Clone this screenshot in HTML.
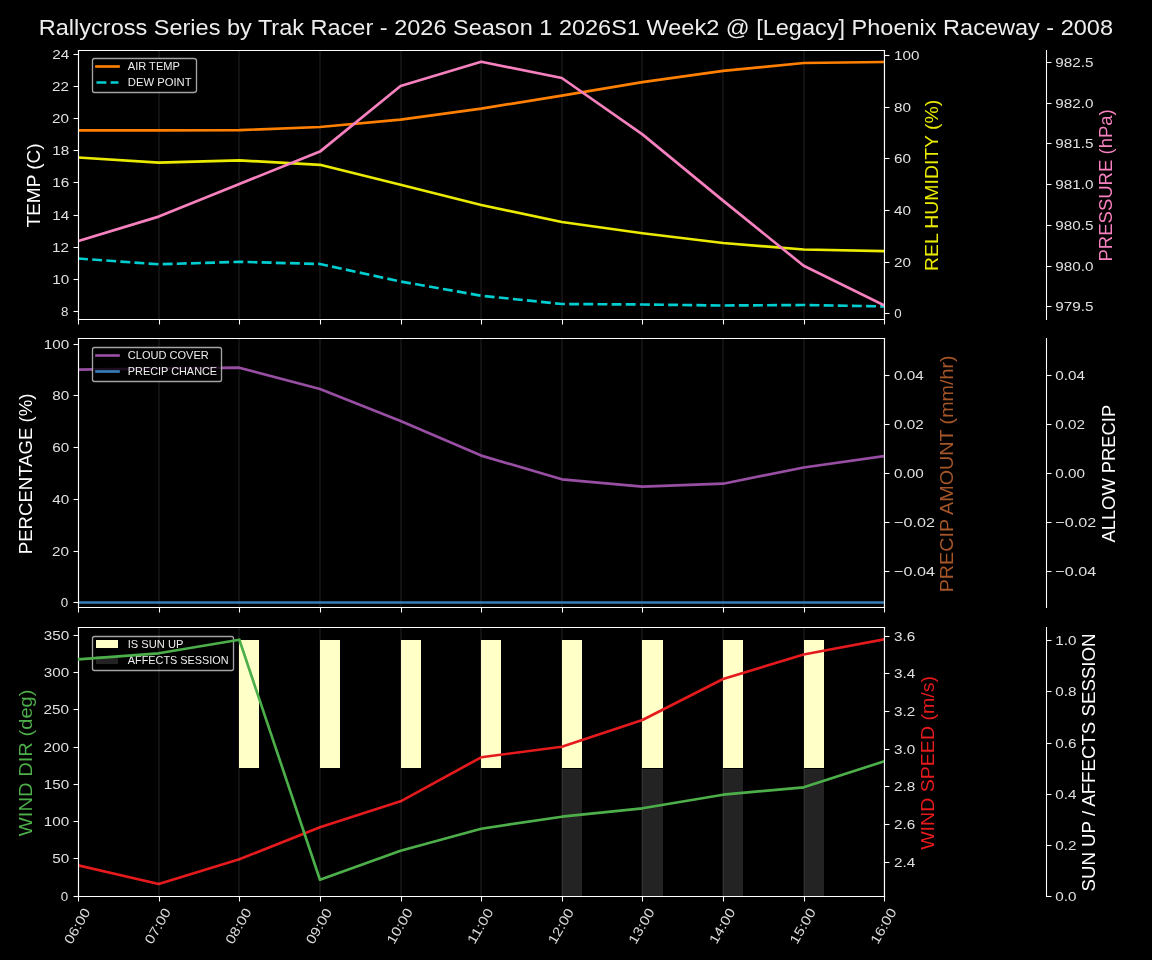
<!DOCTYPE html>
<html><head><meta charset="utf-8"><title>Rallycross weather</title>
<style>html,body{margin:0;padding:0;background:#000;width:1152px;height:960px;overflow:hidden}svg{display:block;will-change:transform}text{font-family:"Liberation Sans",sans-serif;white-space:pre}</style></head>
<body>
<svg width="1152" height="960" viewBox="0 0 1152 960" font-family="'Liberation Sans', sans-serif">
<defs><clipPath id="c0"><rect x="78" y="50" width="806" height="269"/></clipPath><clipPath id="c1"><rect x="78" y="338" width="806" height="269"/></clipPath><clipPath id="c2"><rect x="78" y="627" width="806" height="269"/></clipPath></defs>
<rect width="1152" height="960" fill="#000"/>
<path d="M0 960L1152 960L1152 0L0 0Z" fill="#000000"/>
<path d="M78 319L884 319L884 50L78 50Z" fill="#000000"/>
<path d="M78 319L78 50" fill="none" stroke="#ffffff" stroke-opacity="0.067" stroke-width="2" stroke-linecap="square" stroke-linejoin="round" clip-path="url(#c0)"/>
<path d="M78.5 319.5L78.5 324.5" fill="none" stroke="#ffffff" stroke-width="1.07" stroke-linecap="butt"/>
<path d="M159 319L159 50" fill="none" stroke="#ffffff" stroke-opacity="0.067" stroke-width="2" stroke-linecap="square" stroke-linejoin="round" clip-path="url(#c0)"/>
<path d="M159.5 319.5L159.5 324.5" fill="none" stroke="#ffffff" stroke-width="1.07" stroke-linecap="butt"/>
<path d="M239 319L239 50" fill="none" stroke="#ffffff" stroke-opacity="0.067" stroke-width="2" stroke-linecap="square" stroke-linejoin="round" clip-path="url(#c0)"/>
<path d="M239.5 319.5L239.5 324.5" fill="none" stroke="#ffffff" stroke-width="1.07" stroke-linecap="butt"/>
<path d="M320 319L320 50" fill="none" stroke="#ffffff" stroke-opacity="0.067" stroke-width="2" stroke-linecap="square" stroke-linejoin="round" clip-path="url(#c0)"/>
<path d="M320.5 319.5L320.5 324.5" fill="none" stroke="#ffffff" stroke-width="1.07" stroke-linecap="butt"/>
<path d="M401 319L401 50" fill="none" stroke="#ffffff" stroke-opacity="0.067" stroke-width="2" stroke-linecap="square" stroke-linejoin="round" clip-path="url(#c0)"/>
<path d="M401.5 319.5L401.5 324.5" fill="none" stroke="#ffffff" stroke-width="1.07" stroke-linecap="butt"/>
<path d="M481 319L481 50" fill="none" stroke="#ffffff" stroke-opacity="0.067" stroke-width="2" stroke-linecap="square" stroke-linejoin="round" clip-path="url(#c0)"/>
<path d="M481.5 319.5L481.5 324.5" fill="none" stroke="#ffffff" stroke-width="1.07" stroke-linecap="butt"/>
<path d="M562 319L562 50" fill="none" stroke="#ffffff" stroke-opacity="0.067" stroke-width="2" stroke-linecap="square" stroke-linejoin="round" clip-path="url(#c0)"/>
<path d="M562.5 319.5L562.5 324.5" fill="none" stroke="#ffffff" stroke-width="1.07" stroke-linecap="butt"/>
<path d="M642 319L642 50" fill="none" stroke="#ffffff" stroke-opacity="0.067" stroke-width="2" stroke-linecap="square" stroke-linejoin="round" clip-path="url(#c0)"/>
<path d="M642.5 319.5L642.5 324.5" fill="none" stroke="#ffffff" stroke-width="1.07" stroke-linecap="butt"/>
<path d="M723 319L723 50" fill="none" stroke="#ffffff" stroke-opacity="0.067" stroke-width="2" stroke-linecap="square" stroke-linejoin="round" clip-path="url(#c0)"/>
<path d="M723.5 319.5L723.5 324.5" fill="none" stroke="#ffffff" stroke-width="1.07" stroke-linecap="butt"/>
<path d="M804 319L804 50" fill="none" stroke="#ffffff" stroke-opacity="0.067" stroke-width="2" stroke-linecap="square" stroke-linejoin="round" clip-path="url(#c0)"/>
<path d="M804.5 319.5L804.5 324.5" fill="none" stroke="#ffffff" stroke-width="1.07" stroke-linecap="butt"/>
<path d="M884 319L884 50" fill="none" stroke="#ffffff" stroke-opacity="0.067" stroke-width="2" stroke-linecap="square" stroke-linejoin="round" clip-path="url(#c0)"/>
<path d="M884.5 319.5L884.5 324.5" fill="none" stroke="#ffffff" stroke-width="1.07" stroke-linecap="butt"/>
<path d="M78.5 311.5L73.5 311.5" fill="none" stroke="#ffffff" stroke-width="1.07" stroke-linecap="butt"/>
<text x="60.89" y="315.9" font-size="13.33" fill="#ffffff" fill-opacity="0.88">8</text>
<path d="M78.5 279.5L73.5 279.5" fill="none" stroke="#ffffff" stroke-width="1.07" stroke-linecap="butt"/>
<text x="52.27" y="283.77" font-size="13.33" fill="#ffffff" fill-opacity="0.88" textLength="16.97" lengthAdjust="spacingAndGlyphs">10</text>
<path d="M78.5 247.5L73.5 247.5" fill="none" stroke="#ffffff" stroke-width="1.07" stroke-linecap="butt"/>
<text x="52.14" y="251.65" font-size="13.33" fill="#ffffff" fill-opacity="0.88" textLength="16.97" lengthAdjust="spacingAndGlyphs">12</text>
<path d="M78.5 215.5L73.5 215.5" fill="none" stroke="#ffffff" stroke-width="1.07" stroke-linecap="butt"/>
<text x="52.39" y="219.53" font-size="13.33" fill="#ffffff" fill-opacity="0.88" textLength="16.97" lengthAdjust="spacingAndGlyphs">14</text>
<path d="M78.5 182.5L73.5 182.5" fill="none" stroke="#ffffff" stroke-width="1.07" stroke-linecap="butt"/>
<text x="52.27" y="187.4" font-size="13.33" fill="#ffffff" fill-opacity="0.88" textLength="16.97" lengthAdjust="spacingAndGlyphs">16</text>
<path d="M78.5 150.5L73.5 150.5" fill="none" stroke="#ffffff" stroke-width="1.07" stroke-linecap="butt"/>
<text x="52.39" y="155.28" font-size="13.33" fill="#ffffff" fill-opacity="0.88" textLength="16.97" lengthAdjust="spacingAndGlyphs">18</text>
<path d="M78.5 118.5L73.5 118.5" fill="none" stroke="#ffffff" stroke-width="1.07" stroke-linecap="butt"/>
<text x="52.14" y="123.15" font-size="13.33" fill="#ffffff" fill-opacity="0.88" textLength="16.97" lengthAdjust="spacingAndGlyphs">20</text>
<path d="M78.5 86.5L73.5 86.5" fill="none" stroke="#ffffff" stroke-width="1.07" stroke-linecap="butt"/>
<text x="52.02" y="91.03" font-size="13.33" fill="#ffffff" fill-opacity="0.88" textLength="16.97" lengthAdjust="spacingAndGlyphs">22</text>
<path d="M78.5 54.5L73.5 54.5" fill="none" stroke="#ffffff" stroke-width="1.07" stroke-linecap="butt"/>
<text x="52.27" y="58.9" font-size="13.33" fill="#ffffff" fill-opacity="0.88" textLength="16.97" lengthAdjust="spacingAndGlyphs">24</text>
<text x="40.43" y="227.44" font-size="18.67" fill="#ffffff" textLength="84.05" lengthAdjust="spacingAndGlyphs" transform="rotate(-90 40.43 227.44)">TEMP (C)</text>
<path d="M78.1 130.4L158.72 130.4L239.34 130.2L319.96 127L400.58 119.6L481.2 108.6L561.82 95.6L642.44 82.1L723.06 70.9L803.68 63L884.3 62" fill="none" stroke="#ff7f00" stroke-width="2.67" stroke-linecap="square" stroke-linejoin="round" clip-path="url(#c0)"/>
<path d="M78.1 258.5L158.72 264.3L239.34 261.8L319.96 264L400.58 281.5L481.2 295.7L561.82 304L642.44 304.5L723.06 305.5L803.68 305L884.3 306.4" fill="none" stroke="#00ced1" stroke-width="2.67" stroke-linecap="butt" stroke-linejoin="round" stroke-dasharray="9.87 4.27" clip-path="url(#c0)"/>
<path d="M78.5 319.5L78.5 50.5" fill="none" stroke="#ffffff" stroke-width="1.07" stroke-linecap="square" stroke-linejoin="miter"/>
<path d="M884.5 319.5L884.5 50.5" fill="none" stroke="#ffffff" stroke-width="1.07" stroke-linecap="square" stroke-linejoin="miter"/>
<path d="M78.5 319.5L884.5 319.5" fill="none" stroke="#ffffff" stroke-width="1.07" stroke-linecap="square" stroke-linejoin="miter"/>
<path d="M78.5 50.5L884.5 50.5" fill="none" stroke="#ffffff" stroke-width="1.07" stroke-linecap="square" stroke-linejoin="miter"/>
<path d="M94.5 92.5L193.5 92.5Q196.5 92.5 196.5 90.5L196.5 60.5Q196.5 58.5 193.5 58.5L94.5 58.5Q92.5 58.5 92.5 60.5L92.5 90.5Q92.5 92.5 94.5 92.5Z" fill="#000000" fill-opacity="0.800" stroke="#cccccc" stroke-opacity="0.800" stroke-width="1.33" stroke-linecap="butt" stroke-linejoin="miter"/>
<path d="M96.5 66.5L107.5 66.5L118.5 66.5" fill="none" stroke="#ff7f00" stroke-width="2.67" stroke-linecap="square" stroke-linejoin="round"/>
<text x="127.76" y="70.24" font-size="11.11" fill="#ffffff" fill-opacity="0.93" textLength="52.16" lengthAdjust="spacingAndGlyphs">AIR TEMP</text>
<path d="M96.5 82.5L107.5 82.5L118.5 82.5" fill="none" stroke="#00ced1" stroke-width="2.67" stroke-linecap="butt" stroke-linejoin="round" stroke-dasharray="9.87 4.27"/>
<text x="127.76" y="85.8" font-size="11.11" fill="#ffffff" fill-opacity="0.93" textLength="63.83" lengthAdjust="spacingAndGlyphs">DEW POINT</text>
<path d="M884.5 313.5L889.5 313.5" fill="none" stroke="#ffffff" stroke-width="1.07" stroke-linecap="butt"/>
<text x="894.13" y="318.4" font-size="13.33" fill="#ffffff" fill-opacity="0.88">0</text>
<path d="M884.5 262.5L889.5 262.5" fill="none" stroke="#ffffff" stroke-width="1.07" stroke-linecap="butt"/>
<text x="894.13" y="266.7" font-size="13.33" fill="#ffffff" fill-opacity="0.88" textLength="16.97" lengthAdjust="spacingAndGlyphs">20</text>
<path d="M884.5 210.5L889.5 210.5" fill="none" stroke="#ffffff" stroke-width="1.07" stroke-linecap="butt"/>
<text x="894.13" y="215" font-size="13.33" fill="#ffffff" fill-opacity="0.88" textLength="16.97" lengthAdjust="spacingAndGlyphs">40</text>
<path d="M884.5 158.5L889.5 158.5" fill="none" stroke="#ffffff" stroke-width="1.07" stroke-linecap="butt"/>
<text x="894.13" y="163.3" font-size="13.33" fill="#ffffff" fill-opacity="0.88" textLength="16.97" lengthAdjust="spacingAndGlyphs">60</text>
<path d="M884.5 107.5L889.5 107.5" fill="none" stroke="#ffffff" stroke-width="1.07" stroke-linecap="butt"/>
<text x="894.13" y="111.6" font-size="13.33" fill="#ffffff" fill-opacity="0.88" textLength="16.97" lengthAdjust="spacingAndGlyphs">80</text>
<path d="M884.5 55.5L889.5 55.5" fill="none" stroke="#ffffff" stroke-width="1.07" stroke-linecap="butt"/>
<text x="894.13" y="59.9" font-size="13.33" fill="#ffffff" fill-opacity="0.88" textLength="25.45" lengthAdjust="spacingAndGlyphs">100</text>
<text x="937.72" y="271" font-size="18.67" fill="#ebeb00" textLength="171.23" lengthAdjust="spacingAndGlyphs" transform="rotate(-90 937.72 271)">REL HUMIDITY (%)</text>
<path d="M78.1 157.5L158.72 162.6L239.34 160.4L319.96 164.8L400.58 184.8L481.2 205L561.82 222L642.44 233.2L723.06 243L803.68 249.5L884.3 251.2" fill="none" stroke="#ebeb00" stroke-width="2.67" stroke-linecap="square" stroke-linejoin="round" clip-path="url(#c0)"/>
<path d="M78.5 319.5L78.5 50.5" fill="none" stroke="#ffffff" stroke-width="1.07" stroke-linecap="square" stroke-linejoin="miter"/>
<path d="M884.5 319.5L884.5 50.5" fill="none" stroke="#ffffff" stroke-width="1.07" stroke-linecap="square" stroke-linejoin="miter"/>
<path d="M78.5 319.5L884.5 319.5" fill="none" stroke="#ffffff" stroke-width="1.07" stroke-linecap="square" stroke-linejoin="miter"/>
<path d="M78.5 50.5L884.5 50.5" fill="none" stroke="#ffffff" stroke-width="1.07" stroke-linecap="square" stroke-linejoin="miter"/>
<path d="M1046.5 306.5L1051.5 306.5" fill="none" stroke="#ffffff" stroke-width="1.07" stroke-linecap="butt"/>
<text x="1055.37" y="311.25" font-size="13.33" fill="#ffffff" fill-opacity="0.88" textLength="38.17" lengthAdjust="spacingAndGlyphs">979.5</text>
<path d="M1046.5 266.5L1051.5 266.5" fill="none" stroke="#ffffff" stroke-width="1.07" stroke-linecap="butt"/>
<text x="1055.37" y="270.55" font-size="13.33" fill="#ffffff" fill-opacity="0.88" textLength="38.17" lengthAdjust="spacingAndGlyphs">980.0</text>
<path d="M1046.5 225.5L1051.5 225.5" fill="none" stroke="#ffffff" stroke-width="1.07" stroke-linecap="butt"/>
<text x="1055.37" y="229.85" font-size="13.33" fill="#ffffff" fill-opacity="0.88" textLength="38.17" lengthAdjust="spacingAndGlyphs">980.5</text>
<path d="M1046.5 184.5L1051.5 184.5" fill="none" stroke="#ffffff" stroke-width="1.07" stroke-linecap="butt"/>
<text x="1055.37" y="189.15" font-size="13.33" fill="#ffffff" fill-opacity="0.88" textLength="38.17" lengthAdjust="spacingAndGlyphs">981.0</text>
<path d="M1046.5 143.5L1051.5 143.5" fill="none" stroke="#ffffff" stroke-width="1.07" stroke-linecap="butt"/>
<text x="1055.37" y="148.45" font-size="13.33" fill="#ffffff" fill-opacity="0.88" textLength="38.17" lengthAdjust="spacingAndGlyphs">981.5</text>
<path d="M1046.5 103.5L1051.5 103.5" fill="none" stroke="#ffffff" stroke-width="1.07" stroke-linecap="butt"/>
<text x="1055.37" y="107.75" font-size="13.33" fill="#ffffff" fill-opacity="0.88" textLength="38.17" lengthAdjust="spacingAndGlyphs">982.0</text>
<path d="M1046.5 62.5L1051.5 62.5" fill="none" stroke="#ffffff" stroke-width="1.07" stroke-linecap="butt"/>
<text x="1055.37" y="67.05" font-size="13.33" fill="#ffffff" fill-opacity="0.88" textLength="38.17" lengthAdjust="spacingAndGlyphs">982.5</text>
<text x="1111.96" y="261.5" font-size="18.67" fill="#f781bf" textLength="152.27" lengthAdjust="spacingAndGlyphs" transform="rotate(-90 1111.96 261.5)">PRESSURE (hPa)</text>
<path d="M78.1 241L158.72 216.6L239.34 184L319.96 151.6L400.58 86L481.2 61.7L561.82 78L642.44 134.4L723.06 200.6L803.68 265.8L884.3 305.5" fill="none" stroke="#f781bf" stroke-width="2.67" stroke-linecap="square" stroke-linejoin="round" clip-path="url(#c0)"/>
<path d="M78.5 319.5L78.5 50.5" fill="none" stroke="#ffffff" stroke-width="1.07" stroke-linecap="square" stroke-linejoin="miter"/>
<path d="M1046.5 319.5L1046.5 50.5" fill="none" stroke="#ffffff" stroke-width="1.07" stroke-linecap="square" stroke-linejoin="miter"/>
<path d="M78.5 319.5L884.5 319.5" fill="none" stroke="#ffffff" stroke-width="1.07" stroke-linecap="square" stroke-linejoin="miter"/>
<path d="M78.5 50.5L884.5 50.5" fill="none" stroke="#ffffff" stroke-width="1.07" stroke-linecap="square" stroke-linejoin="miter"/>
<path d="M78 607L884 607L884 338L78 338Z" fill="#000000"/>
<path d="M78 607L78 338" fill="none" stroke="#ffffff" stroke-opacity="0.067" stroke-width="2" stroke-linecap="square" stroke-linejoin="round" clip-path="url(#c1)"/>
<path d="M78.5 607.5L78.5 612.5" fill="none" stroke="#ffffff" stroke-width="1.07" stroke-linecap="butt"/>
<path d="M159 607L159 338" fill="none" stroke="#ffffff" stroke-opacity="0.067" stroke-width="2" stroke-linecap="square" stroke-linejoin="round" clip-path="url(#c1)"/>
<path d="M159.5 607.5L159.5 612.5" fill="none" stroke="#ffffff" stroke-width="1.07" stroke-linecap="butt"/>
<path d="M239 607L239 338" fill="none" stroke="#ffffff" stroke-opacity="0.067" stroke-width="2" stroke-linecap="square" stroke-linejoin="round" clip-path="url(#c1)"/>
<path d="M239.5 607.5L239.5 612.5" fill="none" stroke="#ffffff" stroke-width="1.07" stroke-linecap="butt"/>
<path d="M320 607L320 338" fill="none" stroke="#ffffff" stroke-opacity="0.067" stroke-width="2" stroke-linecap="square" stroke-linejoin="round" clip-path="url(#c1)"/>
<path d="M320.5 607.5L320.5 612.5" fill="none" stroke="#ffffff" stroke-width="1.07" stroke-linecap="butt"/>
<path d="M401 607L401 338" fill="none" stroke="#ffffff" stroke-opacity="0.067" stroke-width="2" stroke-linecap="square" stroke-linejoin="round" clip-path="url(#c1)"/>
<path d="M401.5 607.5L401.5 612.5" fill="none" stroke="#ffffff" stroke-width="1.07" stroke-linecap="butt"/>
<path d="M481 607L481 338" fill="none" stroke="#ffffff" stroke-opacity="0.067" stroke-width="2" stroke-linecap="square" stroke-linejoin="round" clip-path="url(#c1)"/>
<path d="M481.5 607.5L481.5 612.5" fill="none" stroke="#ffffff" stroke-width="1.07" stroke-linecap="butt"/>
<path d="M562 607L562 338" fill="none" stroke="#ffffff" stroke-opacity="0.067" stroke-width="2" stroke-linecap="square" stroke-linejoin="round" clip-path="url(#c1)"/>
<path d="M562.5 607.5L562.5 612.5" fill="none" stroke="#ffffff" stroke-width="1.07" stroke-linecap="butt"/>
<path d="M642 607L642 338" fill="none" stroke="#ffffff" stroke-opacity="0.067" stroke-width="2" stroke-linecap="square" stroke-linejoin="round" clip-path="url(#c1)"/>
<path d="M642.5 607.5L642.5 612.5" fill="none" stroke="#ffffff" stroke-width="1.07" stroke-linecap="butt"/>
<path d="M723 607L723 338" fill="none" stroke="#ffffff" stroke-opacity="0.067" stroke-width="2" stroke-linecap="square" stroke-linejoin="round" clip-path="url(#c1)"/>
<path d="M723.5 607.5L723.5 612.5" fill="none" stroke="#ffffff" stroke-width="1.07" stroke-linecap="butt"/>
<path d="M804 607L804 338" fill="none" stroke="#ffffff" stroke-opacity="0.067" stroke-width="2" stroke-linecap="square" stroke-linejoin="round" clip-path="url(#c1)"/>
<path d="M804.5 607.5L804.5 612.5" fill="none" stroke="#ffffff" stroke-width="1.07" stroke-linecap="butt"/>
<path d="M884 607L884 338" fill="none" stroke="#ffffff" stroke-opacity="0.067" stroke-width="2" stroke-linecap="square" stroke-linejoin="round" clip-path="url(#c1)"/>
<path d="M884.5 607.5L884.5 612.5" fill="none" stroke="#ffffff" stroke-width="1.07" stroke-linecap="butt"/>
<path d="M78.5 602.5L73.5 602.5" fill="none" stroke="#ffffff" stroke-width="1.07" stroke-linecap="butt"/>
<text x="60.77" y="607.35" font-size="13.33" fill="#ffffff" fill-opacity="0.88">0</text>
<path d="M78.5 551.5L73.5 551.5" fill="none" stroke="#ffffff" stroke-width="1.07" stroke-linecap="butt"/>
<text x="52.14" y="555.63" font-size="13.33" fill="#ffffff" fill-opacity="0.88" textLength="16.97" lengthAdjust="spacingAndGlyphs">20</text>
<path d="M78.5 499.5L73.5 499.5" fill="none" stroke="#ffffff" stroke-width="1.07" stroke-linecap="butt"/>
<text x="52.39" y="503.91" font-size="13.33" fill="#ffffff" fill-opacity="0.88" textLength="16.97" lengthAdjust="spacingAndGlyphs">40</text>
<path d="M78.5 447.5L73.5 447.5" fill="none" stroke="#ffffff" stroke-width="1.07" stroke-linecap="butt"/>
<text x="52.27" y="452.19" font-size="13.33" fill="#ffffff" fill-opacity="0.88" textLength="16.97" lengthAdjust="spacingAndGlyphs">60</text>
<path d="M78.5 395.5L73.5 395.5" fill="none" stroke="#ffffff" stroke-width="1.07" stroke-linecap="butt"/>
<text x="52.39" y="400.47" font-size="13.33" fill="#ffffff" fill-opacity="0.88" textLength="16.97" lengthAdjust="spacingAndGlyphs">80</text>
<path d="M78.5 344.5L73.5 344.5" fill="none" stroke="#ffffff" stroke-width="1.07" stroke-linecap="butt"/>
<text x="43.77" y="348.75" font-size="13.33" fill="#ffffff" fill-opacity="0.88" textLength="25.45" lengthAdjust="spacingAndGlyphs">100</text>
<text x="32.18" y="554.17" font-size="18.67" fill="#ffffff" textLength="160.69" lengthAdjust="spacingAndGlyphs" transform="rotate(-90 32.18 554.17)">PERCENTAGE (%)</text>
<path d="M78.1 369.7L158.72 368.5L239.34 367.7L319.96 389L400.58 421.1L481.2 455.6L561.82 479.3L642.44 486.7L723.06 483.7L803.68 467.5L884.3 456.1" fill="none" stroke="#984ea3" stroke-width="2.67" stroke-linecap="square" stroke-linejoin="round" clip-path="url(#c1)"/>
<path d="M78.5 602.5L159.5 602.5L239.5 602.5L320.5 602.5L401.5 602.5L481.5 602.5L562.5 602.5L642.5 602.5L723.5 602.5L804.5 602.5L884.5 602.5" fill="none" stroke="#377eb8" stroke-width="2.67" stroke-linecap="square" stroke-linejoin="round" clip-path="url(#c1)"/>
<path d="M78.5 607.5L78.5 338.5" fill="none" stroke="#ffffff" stroke-width="1.07" stroke-linecap="square" stroke-linejoin="miter"/>
<path d="M884.5 607.5L884.5 338.5" fill="none" stroke="#ffffff" stroke-width="1.07" stroke-linecap="square" stroke-linejoin="miter"/>
<path d="M78.5 607.5L884.5 607.5" fill="none" stroke="#ffffff" stroke-width="1.07" stroke-linecap="square" stroke-linejoin="miter"/>
<path d="M78.5 338.5L884.5 338.5" fill="none" stroke="#ffffff" stroke-width="1.07" stroke-linecap="square" stroke-linejoin="miter"/>
<path d="M94.5 381.5L219.5 381.5Q221.5 381.5 221.5 379.5L221.5 349.5Q221.5 347.5 219.5 347.5L94.5 347.5Q92.5 347.5 92.5 349.5L92.5 379.5Q92.5 381.5 94.5 381.5Z" fill="#000000" fill-opacity="0.800" stroke="#cccccc" stroke-opacity="0.800" stroke-width="1.33" stroke-linecap="butt" stroke-linejoin="miter"/>
<path d="M96.5 355.5L107.5 355.5L118.5 355.5" fill="none" stroke="#984ea3" stroke-width="2.67" stroke-linecap="square" stroke-linejoin="round"/>
<text x="127.76" y="358.99" font-size="11.11" fill="#ffffff" fill-opacity="0.93" textLength="81.09" lengthAdjust="spacingAndGlyphs">CLOUD COVER</text>
<path d="M96.5 371.5L107.5 371.5L118.5 371.5" fill="none" stroke="#377eb8" stroke-width="2.67" stroke-linecap="square" stroke-linejoin="round"/>
<text x="127.76" y="374.54" font-size="11.11" fill="#ffffff" fill-opacity="0.93" textLength="89.39" lengthAdjust="spacingAndGlyphs">PRECIP CHANCE</text>
<path d="M884.5 571.5L889.5 571.5" fill="none" stroke="#ffffff" stroke-width="1.07" stroke-linecap="butt"/>
<text x="894.13" y="575.62" font-size="13.33" fill="#ffffff" fill-opacity="0.88" textLength="40.86" lengthAdjust="spacingAndGlyphs">−0.04</text>
<path d="M884.5 522.5L889.5 522.5" fill="none" stroke="#ffffff" stroke-width="1.07" stroke-linecap="butt"/>
<text x="894.13" y="526.71" font-size="13.33" fill="#ffffff" fill-opacity="0.88" textLength="40.86" lengthAdjust="spacingAndGlyphs">−0.02</text>
<path d="M884.5 473.5L889.5 473.5" fill="none" stroke="#ffffff" stroke-width="1.07" stroke-linecap="butt"/>
<text x="894.13" y="477.8" font-size="13.33" fill="#ffffff" fill-opacity="0.88" textLength="29.69" lengthAdjust="spacingAndGlyphs">0.00</text>
<path d="M884.5 424.5L889.5 424.5" fill="none" stroke="#ffffff" stroke-width="1.07" stroke-linecap="butt"/>
<text x="894.13" y="428.89" font-size="13.33" fill="#ffffff" fill-opacity="0.88" textLength="29.69" lengthAdjust="spacingAndGlyphs">0.02</text>
<path d="M884.5 375.5L889.5 375.5" fill="none" stroke="#ffffff" stroke-width="1.07" stroke-linecap="butt"/>
<text x="894.13" y="379.98" font-size="13.33" fill="#ffffff" fill-opacity="0.88" textLength="29.69" lengthAdjust="spacingAndGlyphs">0.04</text>
<text x="953.34" y="592.3" font-size="18.67" fill="#a65628" textLength="236.89" lengthAdjust="spacingAndGlyphs" transform="rotate(-90 953.34 592.3)">PRECIP AMOUNT (mm/hr)</text>
<path d="M78.5 607.5L78.5 338.5" fill="none" stroke="#ffffff" stroke-width="1.07" stroke-linecap="square" stroke-linejoin="miter"/>
<path d="M884.5 607.5L884.5 338.5" fill="none" stroke="#ffffff" stroke-width="1.07" stroke-linecap="square" stroke-linejoin="miter"/>
<path d="M78.5 607.5L884.5 607.5" fill="none" stroke="#ffffff" stroke-width="1.07" stroke-linecap="square" stroke-linejoin="miter"/>
<path d="M78.5 338.5L884.5 338.5" fill="none" stroke="#ffffff" stroke-width="1.07" stroke-linecap="square" stroke-linejoin="miter"/>
<path d="M1046.5 571.5L1051.5 571.5" fill="none" stroke="#ffffff" stroke-width="1.07" stroke-linecap="butt"/>
<text x="1055.37" y="575.62" font-size="13.33" fill="#ffffff" fill-opacity="0.88" textLength="40.86" lengthAdjust="spacingAndGlyphs">−0.04</text>
<path d="M1046.5 522.5L1051.5 522.5" fill="none" stroke="#ffffff" stroke-width="1.07" stroke-linecap="butt"/>
<text x="1055.37" y="526.71" font-size="13.33" fill="#ffffff" fill-opacity="0.88" textLength="40.86" lengthAdjust="spacingAndGlyphs">−0.02</text>
<path d="M1046.5 473.5L1051.5 473.5" fill="none" stroke="#ffffff" stroke-width="1.07" stroke-linecap="butt"/>
<text x="1055.37" y="477.8" font-size="13.33" fill="#ffffff" fill-opacity="0.88" textLength="29.69" lengthAdjust="spacingAndGlyphs">0.00</text>
<path d="M1046.5 424.5L1051.5 424.5" fill="none" stroke="#ffffff" stroke-width="1.07" stroke-linecap="butt"/>
<text x="1055.37" y="428.89" font-size="13.33" fill="#ffffff" fill-opacity="0.88" textLength="29.69" lengthAdjust="spacingAndGlyphs">0.02</text>
<path d="M1046.5 375.5L1051.5 375.5" fill="none" stroke="#ffffff" stroke-width="1.07" stroke-linecap="butt"/>
<text x="1055.37" y="379.98" font-size="13.33" fill="#ffffff" fill-opacity="0.88" textLength="29.69" lengthAdjust="spacingAndGlyphs">0.04</text>
<text x="1114.58" y="542.55" font-size="18.67" fill="#ffffff" textLength="137.73" lengthAdjust="spacingAndGlyphs" transform="rotate(-90 1114.58 542.55)">ALLOW PRECIP</text>
<path d="M78.5 607.5L78.5 338.5" fill="none" stroke="#ffffff" stroke-width="1.07" stroke-linecap="square" stroke-linejoin="miter"/>
<path d="M1046.5 607.5L1046.5 338.5" fill="none" stroke="#ffffff" stroke-width="1.07" stroke-linecap="square" stroke-linejoin="miter"/>
<path d="M78.5 607.5L884.5 607.5" fill="none" stroke="#ffffff" stroke-width="1.07" stroke-linecap="square" stroke-linejoin="miter"/>
<path d="M78.5 338.5L884.5 338.5" fill="none" stroke="#ffffff" stroke-width="1.07" stroke-linecap="square" stroke-linejoin="miter"/>
<path d="M239 768L259 768L259 640L239 640Z" fill="#ffffc8" clip-path="url(#c2)"/>
<path d="M320 768L340 768L340 640L320 640Z" fill="#ffffc8" clip-path="url(#c2)"/>
<path d="M401 768L421 768L421 640L401 640Z" fill="#ffffc8" clip-path="url(#c2)"/>
<path d="M481 768L501 768L501 640L481 640Z" fill="#ffffc8" clip-path="url(#c2)"/>
<path d="M562 768L582 768L582 640L562 640Z" fill="#ffffc8" clip-path="url(#c2)"/>
<path d="M642 768L663 768L663 640L642 640Z" fill="#ffffc8" clip-path="url(#c2)"/>
<path d="M723 768L743 768L743 640L723 640Z" fill="#ffffc8" clip-path="url(#c2)"/>
<path d="M804 768L824 768L824 640L804 640Z" fill="#ffffc8" clip-path="url(#c2)"/>
<path d="M562 896L582 896L582 769L562 769Z" fill="#232323" clip-path="url(#c2)"/>
<path d="M642 896L663 896L663 769L642 769Z" fill="#232323" clip-path="url(#c2)"/>
<path d="M723 896L743 896L743 769L723 769Z" fill="#232323" clip-path="url(#c2)"/>
<path d="M804 896L824 896L824 769L804 769Z" fill="#232323" clip-path="url(#c2)"/>
<path d="M1046.5 896.5L1051.5 896.5" fill="none" stroke="#ffffff" stroke-width="1.07" stroke-linecap="butt"/>
<text x="1055.37" y="901.3" font-size="13.33" fill="#ffffff" fill-opacity="0.88" textLength="21.2" lengthAdjust="spacingAndGlyphs">0.0</text>
<path d="M1046.5 845.5L1051.5 845.5" fill="none" stroke="#ffffff" stroke-width="1.07" stroke-linecap="butt"/>
<text x="1055.37" y="850.06" font-size="13.33" fill="#ffffff" fill-opacity="0.88" textLength="21.2" lengthAdjust="spacingAndGlyphs">0.2</text>
<path d="M1046.5 794.5L1051.5 794.5" fill="none" stroke="#ffffff" stroke-width="1.07" stroke-linecap="butt"/>
<text x="1055.37" y="798.82" font-size="13.33" fill="#ffffff" fill-opacity="0.88" textLength="21.2" lengthAdjust="spacingAndGlyphs">0.4</text>
<path d="M1046.5 743.5L1051.5 743.5" fill="none" stroke="#ffffff" stroke-width="1.07" stroke-linecap="butt"/>
<text x="1055.37" y="747.59" font-size="13.33" fill="#ffffff" fill-opacity="0.88" textLength="21.2" lengthAdjust="spacingAndGlyphs">0.6</text>
<path d="M1046.5 691.5L1051.5 691.5" fill="none" stroke="#ffffff" stroke-width="1.07" stroke-linecap="butt"/>
<text x="1055.37" y="696.35" font-size="13.33" fill="#ffffff" fill-opacity="0.88" textLength="21.2" lengthAdjust="spacingAndGlyphs">0.8</text>
<path d="M1046.5 640.5L1051.5 640.5" fill="none" stroke="#ffffff" stroke-width="1.07" stroke-linecap="butt"/>
<text x="1055.37" y="645.11" font-size="13.33" fill="#ffffff" fill-opacity="0.88" textLength="21.2" lengthAdjust="spacingAndGlyphs">1.0</text>
<text x="1094.83" y="891.55" font-size="18.67" fill="#ffffff" textLength="258.12" lengthAdjust="spacingAndGlyphs" transform="rotate(-90 1094.83 891.55)">SUN UP / AFFECTS SESSION</text>
<path d="M78.5 896.5L78.5 627.5" fill="none" stroke="#ffffff" stroke-width="1.07" stroke-linecap="square" stroke-linejoin="miter"/>
<path d="M1046.5 896.5L1046.5 627.5" fill="none" stroke="#ffffff" stroke-width="1.07" stroke-linecap="square" stroke-linejoin="miter"/>
<path d="M78.5 896.5L884.5 896.5" fill="none" stroke="#ffffff" stroke-width="1.07" stroke-linecap="square" stroke-linejoin="miter"/>
<path d="M78.5 627.5L884.5 627.5" fill="none" stroke="#ffffff" stroke-width="1.07" stroke-linecap="square" stroke-linejoin="miter"/>
<path d="M94.5 670.5L231.5 670.5Q233.5 670.5 233.5 668.5L233.5 638.5Q233.5 636.5 231.5 636.5L94.5 636.5Q92.5 636.5 92.5 638.5L92.5 668.5Q92.5 670.5 94.5 670.5Z" fill="#000000" fill-opacity="0.800" stroke="#cccccc" stroke-opacity="0.800" stroke-width="1.33" stroke-linecap="butt" stroke-linejoin="miter"/>
<path d="M96 648L118 648L118 640L96 640Z" fill="#ffffc8"/>
<text x="127.76" y="647.99" font-size="11.11" fill="#ffffff" fill-opacity="0.93" textLength="55.66" lengthAdjust="spacingAndGlyphs">IS SUN UP</text>
<path d="M96 664L118 664L118 656L96 656Z" fill="#232323"/>
<text x="127.76" y="663.54" font-size="11.11" fill="#ffffff" fill-opacity="0.93" textLength="100.92" lengthAdjust="spacingAndGlyphs">AFFECTS SESSION</text>
<path d="M884.5 862.5L889.5 862.5" fill="none" stroke="#ffffff" stroke-width="1.07" stroke-linecap="butt"/>
<text x="894.13" y="866.7" font-size="13.33" fill="#ffffff" fill-opacity="0.88" textLength="21.2" lengthAdjust="spacingAndGlyphs">2.4</text>
<path d="M884.5 824.5L889.5 824.5" fill="none" stroke="#ffffff" stroke-width="1.07" stroke-linecap="butt"/>
<text x="894.13" y="829.05" font-size="13.33" fill="#ffffff" fill-opacity="0.88" textLength="21.2" lengthAdjust="spacingAndGlyphs">2.6</text>
<path d="M884.5 786.5L889.5 786.5" fill="none" stroke="#ffffff" stroke-width="1.07" stroke-linecap="butt"/>
<text x="894.13" y="791.4" font-size="13.33" fill="#ffffff" fill-opacity="0.88" textLength="21.2" lengthAdjust="spacingAndGlyphs">2.8</text>
<path d="M884.5 749.5L889.5 749.5" fill="none" stroke="#ffffff" stroke-width="1.07" stroke-linecap="butt"/>
<text x="894.13" y="753.75" font-size="13.33" fill="#ffffff" fill-opacity="0.88" textLength="21.2" lengthAdjust="spacingAndGlyphs">3.0</text>
<path d="M884.5 711.5L889.5 711.5" fill="none" stroke="#ffffff" stroke-width="1.07" stroke-linecap="butt"/>
<text x="894.13" y="716.1" font-size="13.33" fill="#ffffff" fill-opacity="0.88" textLength="21.2" lengthAdjust="spacingAndGlyphs">3.2</text>
<path d="M884.5 673.5L889.5 673.5" fill="none" stroke="#ffffff" stroke-width="1.07" stroke-linecap="butt"/>
<text x="894.13" y="678.45" font-size="13.33" fill="#ffffff" fill-opacity="0.88" textLength="21.2" lengthAdjust="spacingAndGlyphs">3.4</text>
<path d="M884.5 636.5L889.5 636.5" fill="none" stroke="#ffffff" stroke-width="1.07" stroke-linecap="butt"/>
<text x="894.13" y="640.8" font-size="13.33" fill="#ffffff" fill-opacity="0.88" textLength="21.2" lengthAdjust="spacingAndGlyphs">3.6</text>
<text x="933.59" y="849.86" font-size="18.67" fill="#e41a1c" textLength="173.89" lengthAdjust="spacingAndGlyphs" transform="rotate(-90 933.59 849.86)">WIND SPEED (m/s)</text>
<path d="M78.1 865.3L158.72 884L239.34 859.3L319.96 827.3L400.58 801.3L481.2 757.3L561.82 746.7L642.44 720L723.06 679L803.68 654.5L884.3 639.3" fill="none" stroke="#e41a1c" stroke-width="2.67" stroke-linecap="square" stroke-linejoin="round" clip-path="url(#c2)"/>
<path d="M78.5 896.5L78.5 627.5" fill="none" stroke="#ffffff" stroke-width="1.07" stroke-linecap="square" stroke-linejoin="miter"/>
<path d="M884.5 896.5L884.5 627.5" fill="none" stroke="#ffffff" stroke-width="1.07" stroke-linecap="square" stroke-linejoin="miter"/>
<path d="M78.5 896.5L884.5 896.5" fill="none" stroke="#ffffff" stroke-width="1.07" stroke-linecap="square" stroke-linejoin="miter"/>
<path d="M78.5 627.5L884.5 627.5" fill="none" stroke="#ffffff" stroke-width="1.07" stroke-linecap="square" stroke-linejoin="miter"/>
<path d="M78 896L78 627" fill="none" stroke="#ffffff" stroke-opacity="0.067" stroke-width="2" stroke-linecap="square" stroke-linejoin="round" clip-path="url(#c2)"/>
<path d="M78.5 896.5L78.5 901.5" fill="none" stroke="#ffffff" stroke-width="1.07" stroke-linecap="butt"/>
<text x="71.51" y="944.98" font-size="13.33" fill="#ffffff" fill-opacity="0.85" textLength="38.42" lengthAdjust="spacingAndGlyphs" transform="rotate(-60 71.51 944.98)">06:00</text>
<path d="M159 896L159 627" fill="none" stroke="#ffffff" stroke-opacity="0.067" stroke-width="2" stroke-linecap="square" stroke-linejoin="round" clip-path="url(#c2)"/>
<path d="M159.5 896.5L159.5 901.5" fill="none" stroke="#ffffff" stroke-width="1.07" stroke-linecap="butt"/>
<text x="152.13" y="944.98" font-size="13.33" fill="#ffffff" fill-opacity="0.85" textLength="38.42" lengthAdjust="spacingAndGlyphs" transform="rotate(-60 152.13 944.98)">07:00</text>
<path d="M239 896L239 627" fill="none" stroke="#ffffff" stroke-opacity="0.067" stroke-width="2" stroke-linecap="square" stroke-linejoin="round" clip-path="url(#c2)"/>
<path d="M239.5 896.5L239.5 901.5" fill="none" stroke="#ffffff" stroke-width="1.07" stroke-linecap="butt"/>
<text x="232.78" y="944.87" font-size="13.33" fill="#ffffff" fill-opacity="0.85" textLength="38.42" lengthAdjust="spacingAndGlyphs" transform="rotate(-60 232.78 944.87)">08:00</text>
<path d="M320 896L320 627" fill="none" stroke="#ffffff" stroke-opacity="0.067" stroke-width="2" stroke-linecap="square" stroke-linejoin="round" clip-path="url(#c2)"/>
<path d="M320.5 896.5L320.5 901.5" fill="none" stroke="#ffffff" stroke-width="1.07" stroke-linecap="butt"/>
<text x="313.33" y="945.08" font-size="13.33" fill="#ffffff" fill-opacity="0.85" textLength="38.42" lengthAdjust="spacingAndGlyphs" transform="rotate(-60 313.33 945.08)">09:00</text>
<path d="M401 896L401 627" fill="none" stroke="#ffffff" stroke-opacity="0.067" stroke-width="2" stroke-linecap="square" stroke-linejoin="round" clip-path="url(#c2)"/>
<path d="M401.5 896.5L401.5 901.5" fill="none" stroke="#ffffff" stroke-width="1.07" stroke-linecap="butt"/>
<text x="393.99" y="944.98" font-size="13.33" fill="#ffffff" fill-opacity="0.85" textLength="38.42" lengthAdjust="spacingAndGlyphs" transform="rotate(-60 393.99 944.98)">10:00</text>
<path d="M481 896L481 627" fill="none" stroke="#ffffff" stroke-opacity="0.067" stroke-width="2" stroke-linecap="square" stroke-linejoin="round" clip-path="url(#c2)"/>
<path d="M481.5 896.5L481.5 901.5" fill="none" stroke="#ffffff" stroke-width="1.07" stroke-linecap="butt"/>
<text x="474.61" y="944.98" font-size="13.33" fill="#ffffff" fill-opacity="0.85" textLength="38.42" lengthAdjust="spacingAndGlyphs" transform="rotate(-60 474.61 944.98)">11:00</text>
<path d="M562 896L562 627" fill="none" stroke="#ffffff" stroke-opacity="0.067" stroke-width="2" stroke-linecap="square" stroke-linejoin="round" clip-path="url(#c2)"/>
<path d="M562.5 896.5L562.5 901.5" fill="none" stroke="#ffffff" stroke-width="1.07" stroke-linecap="butt"/>
<text x="555.19" y="945.08" font-size="13.33" fill="#ffffff" fill-opacity="0.85" textLength="38.42" lengthAdjust="spacingAndGlyphs" transform="rotate(-60 555.19 945.08)">12:00</text>
<path d="M642 896L642 627" fill="none" stroke="#ffffff" stroke-opacity="0.067" stroke-width="2" stroke-linecap="square" stroke-linejoin="round" clip-path="url(#c2)"/>
<path d="M642.5 896.5L642.5 901.5" fill="none" stroke="#ffffff" stroke-width="1.07" stroke-linecap="butt"/>
<text x="635.85" y="944.98" font-size="13.33" fill="#ffffff" fill-opacity="0.85" textLength="38.42" lengthAdjust="spacingAndGlyphs" transform="rotate(-60 635.85 944.98)">13:00</text>
<path d="M723 896L723 627" fill="none" stroke="#ffffff" stroke-opacity="0.067" stroke-width="2" stroke-linecap="square" stroke-linejoin="round" clip-path="url(#c2)"/>
<path d="M723.5 896.5L723.5 901.5" fill="none" stroke="#ffffff" stroke-width="1.07" stroke-linecap="butt"/>
<text x="716.5" y="944.87" font-size="13.33" fill="#ffffff" fill-opacity="0.85" textLength="38.42" lengthAdjust="spacingAndGlyphs" transform="rotate(-60 716.5 944.87)">14:00</text>
<path d="M804 896L804 627" fill="none" stroke="#ffffff" stroke-opacity="0.067" stroke-width="2" stroke-linecap="square" stroke-linejoin="round" clip-path="url(#c2)"/>
<path d="M804.5 896.5L804.5 901.5" fill="none" stroke="#ffffff" stroke-width="1.07" stroke-linecap="butt"/>
<text x="797.09" y="944.98" font-size="13.33" fill="#ffffff" fill-opacity="0.85" textLength="38.42" lengthAdjust="spacingAndGlyphs" transform="rotate(-60 797.09 944.98)">15:00</text>
<path d="M884 896L884 627" fill="none" stroke="#ffffff" stroke-opacity="0.067" stroke-width="2" stroke-linecap="square" stroke-linejoin="round" clip-path="url(#c2)"/>
<path d="M884.5 896.5L884.5 901.5" fill="none" stroke="#ffffff" stroke-width="1.07" stroke-linecap="butt"/>
<text x="877.71" y="944.98" font-size="13.33" fill="#ffffff" fill-opacity="0.85" textLength="38.42" lengthAdjust="spacingAndGlyphs" transform="rotate(-60 877.71 944.98)">16:00</text>
<path d="M78.5 896.5L73.5 896.5" fill="none" stroke="#ffffff" stroke-width="1.07" stroke-linecap="butt"/>
<text x="60.77" y="900.6" font-size="13.33" fill="#ffffff" fill-opacity="0.88">0</text>
<path d="M78.5 858.5L73.5 858.5" fill="none" stroke="#ffffff" stroke-width="1.07" stroke-linecap="butt"/>
<text x="52.27" y="863.33" font-size="13.33" fill="#ffffff" fill-opacity="0.88" textLength="16.97" lengthAdjust="spacingAndGlyphs">50</text>
<path d="M78.5 821.5L73.5 821.5" fill="none" stroke="#ffffff" stroke-width="1.07" stroke-linecap="butt"/>
<text x="43.77" y="826.06" font-size="13.33" fill="#ffffff" fill-opacity="0.88" textLength="25.45" lengthAdjust="spacingAndGlyphs">100</text>
<path d="M78.5 784.5L73.5 784.5" fill="none" stroke="#ffffff" stroke-width="1.07" stroke-linecap="butt"/>
<text x="43.77" y="788.79" font-size="13.33" fill="#ffffff" fill-opacity="0.88" textLength="25.45" lengthAdjust="spacingAndGlyphs">150</text>
<path d="M78.5 747.5L73.5 747.5" fill="none" stroke="#ffffff" stroke-width="1.07" stroke-linecap="butt"/>
<text x="43.64" y="751.52" font-size="13.33" fill="#ffffff" fill-opacity="0.88" textLength="25.45" lengthAdjust="spacingAndGlyphs">200</text>
<path d="M78.5 709.5L73.5 709.5" fill="none" stroke="#ffffff" stroke-width="1.07" stroke-linecap="butt"/>
<text x="43.64" y="714.25" font-size="13.33" fill="#ffffff" fill-opacity="0.88" textLength="25.45" lengthAdjust="spacingAndGlyphs">250</text>
<path d="M78.5 672.5L73.5 672.5" fill="none" stroke="#ffffff" stroke-width="1.07" stroke-linecap="butt"/>
<text x="43.77" y="676.98" font-size="13.33" fill="#ffffff" fill-opacity="0.88" textLength="25.45" lengthAdjust="spacingAndGlyphs">300</text>
<path d="M78.5 635.5L73.5 635.5" fill="none" stroke="#ffffff" stroke-width="1.07" stroke-linecap="butt"/>
<text x="43.77" y="639.71" font-size="13.33" fill="#ffffff" fill-opacity="0.88" textLength="25.45" lengthAdjust="spacingAndGlyphs">350</text>
<text x="32.06" y="836.17" font-size="18.67" fill="#4daf4a" textLength="146.7" lengthAdjust="spacingAndGlyphs" transform="rotate(-90 32.06 836.17)">WIND DIR (deg)</text>
<path d="M78.5 896.5L78.5 627.5" fill="none" stroke="#ffffff" stroke-width="1.07" stroke-linecap="square" stroke-linejoin="miter"/>
<path d="M884.5 896.5L884.5 627.5" fill="none" stroke="#ffffff" stroke-width="1.07" stroke-linecap="square" stroke-linejoin="miter"/>
<path d="M78.5 896.5L884.5 896.5" fill="none" stroke="#ffffff" stroke-width="1.07" stroke-linecap="square" stroke-linejoin="miter"/>
<path d="M78.5 627.5L884.5 627.5" fill="none" stroke="#ffffff" stroke-width="1.07" stroke-linecap="square" stroke-linejoin="miter"/>
<path d="M78.1 659.3L158.72 653.3L239.34 639.7L319.96 879.7L400.58 850.7L481.2 828.7L561.82 816.7L642.44 808.3L723.06 794.7L803.68 787.3L884.3 761.3" fill="none" stroke="#4daf4a" stroke-width="2.67" stroke-linecap="square" stroke-linejoin="round" clip-path="url(#c2)"/>
<text x="38.81" y="35.2" font-size="22.19" fill="#ffffff" fill-opacity="0.93" textLength="1074.2" lengthAdjust="spacingAndGlyphs">Rallycross Series by Trak Racer - 2026 Season 1 2026S1 Week2 @ [Legacy] Phoenix Raceway - 2008</text>
</svg>
</body></html>
